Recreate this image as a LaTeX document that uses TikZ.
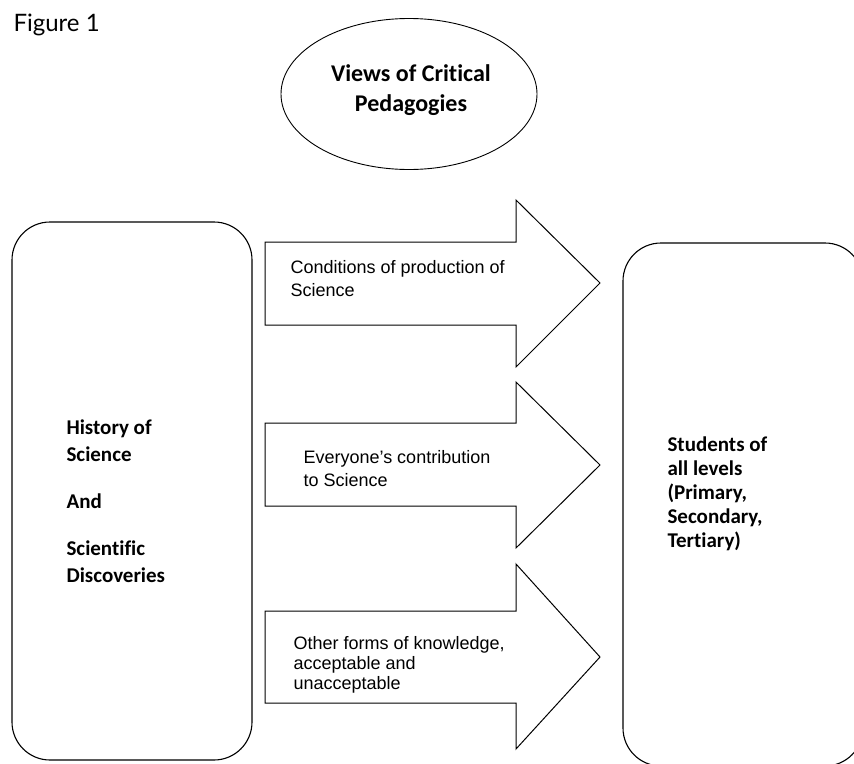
\documentclass[tikz,border=0pt]{standalone}
\usepackage{fontspec}
\setmainfont{Liberation Sans}
\newfontfamily\calibfont[Ligatures=NoCommon]{Carlito}
\newfontfamily\figfont{Lato}
\usetikzlibrary{shapes.geometric}

\begin{document}
\begin{tikzpicture}[x=1pt,y=-1pt,line width=1.1pt,
  box/.style={draw,rounded corners=38pt,minimum width=240pt,inner sep=0pt},
  btext/.style={font=\calibfont\bfseries\fontsize{21}{27}\selectfont,align=left,anchor=west,inner sep=0pt},
  atext/.style={font=\fontsize{18}{23}\selectfont,align=left,anchor=west,inner sep=0pt},
  bigarrow/.style={draw,line width=1pt,line join=miter}]
\useasboundingbox (0,0) rectangle (854,763);
\node[font=\figfont\fontsize{24}{28}\selectfont,anchor=base west,inner sep=0pt] (fig) at (13,31) {Figure 1};
% top ellipse
\node[draw,ellipse,line width=0.9pt,minimum width=256pt,minimum height=151pt] (views) at (409,94) {};
\node[btext,anchor=center,align=center,font=\calibfont\bfseries\fontsize{24}{30}\selectfont] (viewstxt) at (411,90) {Views of Critical\\Pedagogies};
% side boxes
\node[box,minimum height=538pt] (hist) at (132,491) {};
\node[box,minimum height=523pt] (stud) at (743,504.5) {};
\node[btext] (histtxt) at (66,501) {History of\\Science\\[20pt]And\\[20pt]Scientific\\Discoveries};
\node[btext,font=\calibfont\bfseries\fontsize{21}{24}\selectfont] (studtxt) at (667,494) {Students of\\all levels\\(Primary,\\Secondary,\\Tertiary)};
% block arrows
\draw[bigarrow] (265,242) -- (516,242) -- (516,200) -- (600,283) -- (516,367) -- (516,325) -- (265,325) -- cycle;
\draw[bigarrow] (265,423) -- (516,423) -- (516,382) -- (600,465) -- (516,548) -- (516,506) -- (265,506) -- cycle;
\draw[bigarrow] (265,611) -- (516,611) -- (516,564) -- (600,657) -- (516,749) -- (516,703) -- (265,703) -- cycle;
\node[atext] (cond) at (290,278.5) {Conditions of production of\\Science};
\node[atext] (every) at (303,468.5) {Everyone’s contribution\\to Science};
\node[atext,font=\fontsize{18}{20}\selectfont] (other) at (293,665) {Other forms of knowledge,\\acceptable and\\unacceptable};
\end{tikzpicture}
\end{document}
